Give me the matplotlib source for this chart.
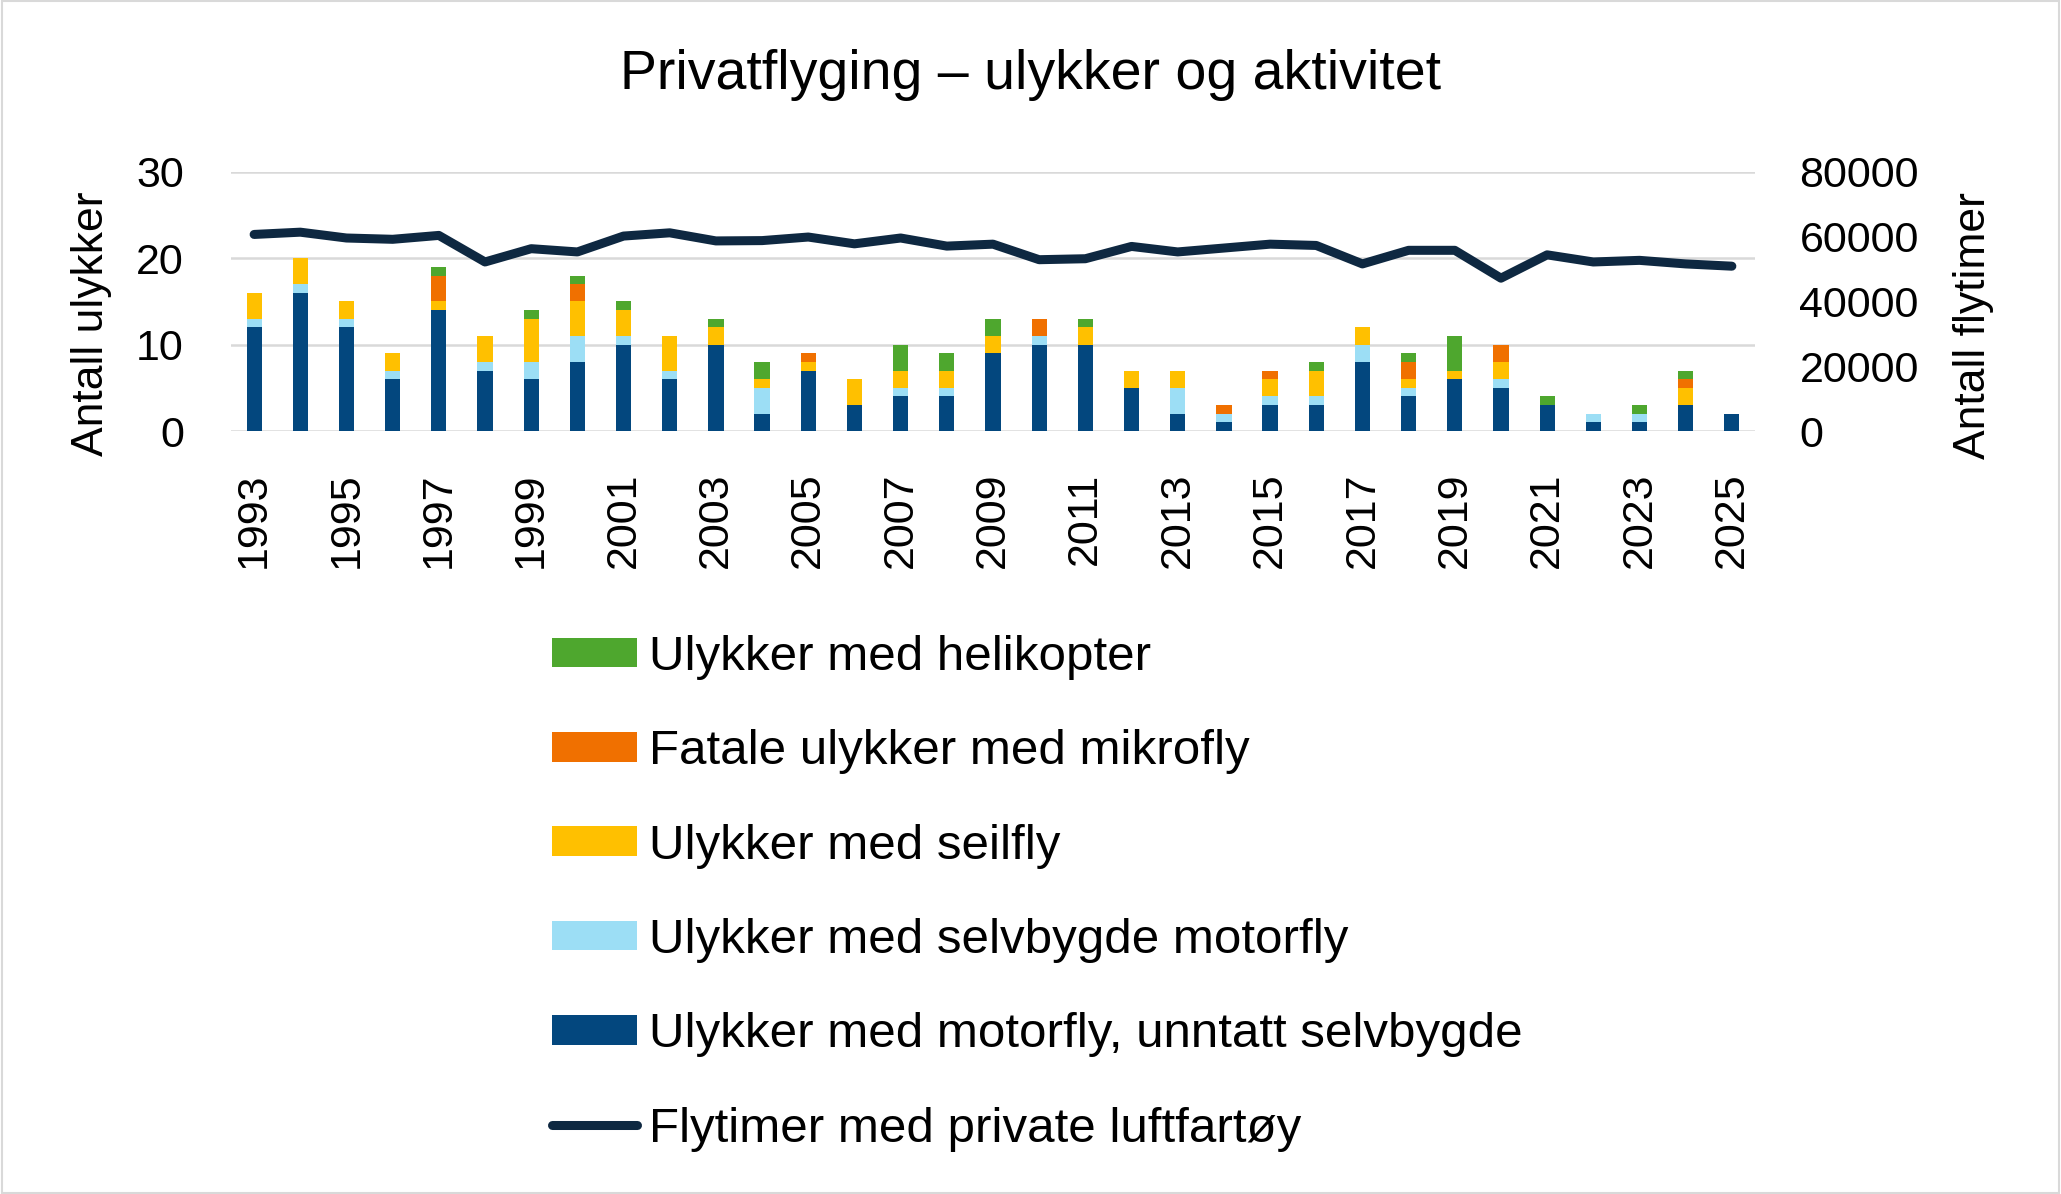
import matplotlib
matplotlib.use('Agg')
import matplotlib.pyplot as plt
import numpy as np
from matplotlib.lines import Line2D
from matplotlib.patches import Patch, Rectangle

plt.rcParams['font.family'] = ['Liberation Sans', 'DejaVu Sans']

years = list(range(1993, 2026))

# antall ulykker per kategori
motorfly = [12, 16, 12, 6, 14, 7, 6, 8, 10, 6, 10, 2, 7, 3, 4, 4, 9,
            10, 10, 5, 2, 1, 3, 3, 8, 4, 6, 5, 3, 1, 1, 3, 2]
selvbygde = [1, 1, 1, 1, 0, 1, 2, 3, 1, 1, 0, 3, 0, 0, 1, 1, 0,
             1, 0, 0, 3, 1, 1, 1, 2, 1, 0, 1, 0, 1, 1, 0, 0]
seilfly = [3, 3, 2, 2, 1, 3, 5, 4, 3, 4, 2, 1, 1, 3, 2, 2, 2,
           0, 2, 2, 2, 0, 2, 3, 2, 1, 1, 2, 0, 0, 0, 2, 0]
mikrofly = [0, 0, 0, 0, 3, 0, 0, 2, 0, 0, 0, 0, 1, 0, 0, 0, 0,
            2, 0, 0, 0, 1, 1, 0, 0, 2, 0, 2, 0, 0, 0, 1, 0]
helikopter = [0, 0, 0, 0, 1, 0, 1, 1, 1, 0, 1, 2, 0, 0, 3, 2, 2,
              0, 1, 0, 0, 0, 0, 1, 0, 1, 4, 0, 1, 0, 1, 1, 0]

# flytimer (hoyre akse)
flytimer = [60700, 61400, 59600, 59200, 60400, 52200, 56300, 55300, 60200,
            61200, 58700, 58800, 59900, 57800, 59600, 57100, 57700, 52900,
            53200, 57000, 55300, 56500, 57700, 57300, 51600, 55800, 55800,
            47200, 54400, 52200, 52700, 51600, 50900]

series = [motorfly, selvbygde, seilfly, mikrofly, helikopter]
labels = ['Ulykker med motorfly, unntatt selvbygde',
          'Ulykker med selvbygde motorfly',
          'Ulykker med seilfly',
          'Fatale ulykker med mikrofly',
          'Ulykker med helikopter']
colors = ['#03477E', '#9CDEF5', '#FFC000', '#F07000', '#4EA72E']
line_color = '#0E2841'
grid_color = '#D9D9D9'

fig = plt.figure(figsize=(20.61, 11.94), dpi=100)
ax = fig.add_axes([0.1121, 0.639, 0.7394, 0.217])

x = np.arange(len(years))
bottom = np.zeros(len(years))
for vals, col in zip(series, colors):
    ax.bar(x, vals, width=0.33, bottom=bottom, color=col, zorder=2)
    bottom += np.array(vals)

ax.set_xlim(-0.5, len(years) - 0.5)
ax.set_ylim(0, 30)
ax.set_yticks([0, 10, 20, 30])
ax.grid(axis='y', color=grid_color, linewidth=1.8)
ax.set_axisbelow(True)
for s in ax.spines.values():
    s.set_visible(False)
ax.set_xticks(x[::2])
ax.set_xticklabels([str(y) for y in years[::2]], rotation=90)
ax.tick_params(axis='x', length=0, pad=30, labelsize=31)
ax.tick_params(axis='y', length=0, pad=34, labelsize=31)

ax2 = ax.twinx()
ax2.plot(x, flytimer, color=line_color, linewidth=6.5,
         solid_capstyle='round', solid_joinstyle='round')
ax2.set_ylim(0, 80000)
ax2.set_yticks([0, 20000, 40000, 60000, 80000])
ax2.tick_params(axis='y', length=0, pad=32, labelsize=31)
for s in ax2.spines.values():
    s.set_visible(False)

fig.text(0.5, 1 - 75 / 1194, 'Privatflyging – ulykker og aktivitet',
         ha='center', va='center', fontsize=40)
fig.text(91 / 2061, 1 - 324 / 1194, 'Antall ulykker', rotation=90,
         ha='center', va='center', fontsize=32)
fig.text(1974 / 2061, 1 - 326 / 1194, 'Antall flytimer', rotation=90,
         ha='center', va='center', fontsize=32)

handles = [Patch(facecolor=c) for c in colors[::-1]]
handles.append(Line2D([0], [0], color=line_color, linewidth=6.5,
                      solid_capstyle='round'))
leg_labels = labels[::-1] + ['Flytimer med private luftfartøy']
fig.legend(handles, leg_labels, loc='upper left',
           bbox_to_anchor=(552 / 2061, 1 - 635 / 1194),
           frameon=False, fontsize=35.5, handlelength=1.72, handleheight=0.55,
           handletextpad=0.25, labelspacing=1.0, borderpad=0,
           borderaxespad=0)

fig.patches.append(Rectangle((0.001, 0.001), 0.998, 0.998,
                             transform=fig.transFigure, fill=False,
                             edgecolor=grid_color, linewidth=1.5))

fig.savefig('out.png', dpi=100)
